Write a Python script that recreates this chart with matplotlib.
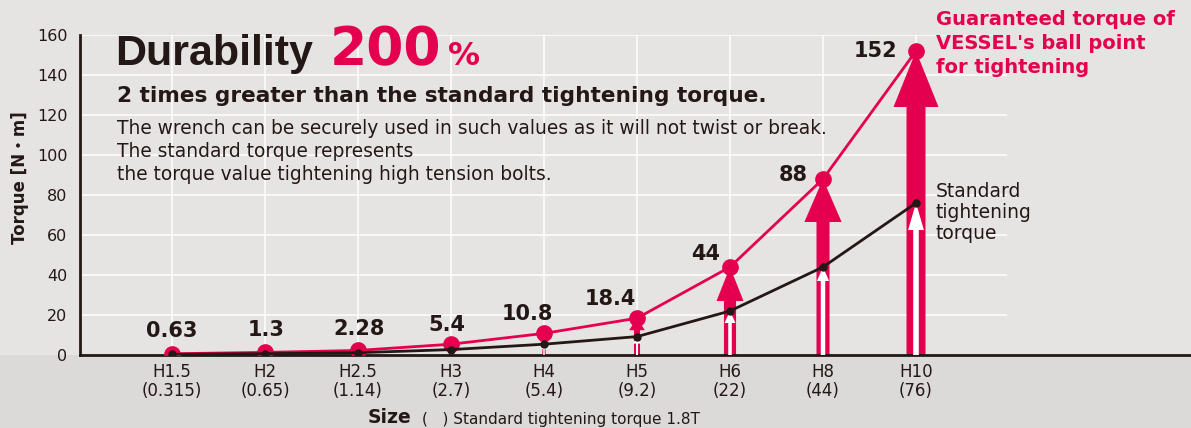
import matplotlib
matplotlib.use("Agg")
import matplotlib.pyplot as plt
from matplotlib.patches import FancyArrow, Rectangle

# chart data
sizes = ["H1.5", "H2", "H2.5", "H3", "H4", "H5", "H6", "H8", "H10"]
standard = [0.315, 0.65, 1.14, 2.7, 5.4, 9.2, 22, 44, 76]
guaranteed = [0.63, 1.3, 2.28, 5.4, 10.8, 18.4, 44, 88, 152]
guar_labels = ["0.63", "1.3", "2.28", "5.4", "10.8", "18.4", "44", "88", "152"]
yticks = [0, 20, 40, 60, 80, 100, 120, 140, 160]

RED = "#e4004f"
INK = "#231815"
W, H = 1191, 428

# label offsets (pixels) from each red point
lab_off = [(0, 23), (1, 22), (1, 21), (-4, 19), (-17, 19), (-27, 19), (-24, 13), (-30, 4), (-41, 0)]
# arrow styles for H4..H10: shaft width, head width (x units), head length (y units)
red_arrow = [(0.035, 0.10, 4), (0.065, 0.17, 6), (0.13, 0.29, 17), (0.14, 0.40, 21.5), (0.204, 0.484, 28)]
white_arrow = [(0.016, 0.055, 2.5), (0.022, 0.086, 3.5), (0.038, 0.118, 6), (0.048, 0.13, 7), (0.06, 0.17, 13.5)]

fig = plt.figure(figsize=(W / 100, H / 100), dpi=100)
fig.patch.set_facecolor("#dcd9d9")
fig.patches.append(Rectangle((0, 73 / H), 1, 1 - 73 / H, transform=fig.transFigure,
                             facecolor="#e6e3e3", edgecolor="none", zorder=-5))

ax = fig.add_axes([80 / W, 73 / H, (W - 80) / W, 320 / H])
ax.set_facecolor("none")
x = list(range(len(sizes)))
ax.set_xlim((80 - 172) / 93, (W - 172) / 93)
ax.set_ylim(0, 160)

# grid
ax.hlines(yticks[1:], ax.get_xlim()[0], 8.98, color="white", lw=1.3, alpha=0.85, zorder=0)
ax.vlines(x, 0, 160, color="white", lw=1.3, alpha=0.85, zorder=0)

# arrows
for k, i in enumerate(range(4, len(sizes))):
    sw, hw, hl = red_arrow[k]
    ax.add_patch(FancyArrow(i, 0, 0, guaranteed[i], width=sw, head_width=hw, head_length=hl,
                            length_includes_head=True, color=RED, lw=0, zorder=2))
    sw, hw, hl = white_arrow[k]
    ax.add_patch(FancyArrow(i, 0, 0, standard[i], width=sw, head_width=hw, head_length=hl,
                            length_includes_head=True, color="white", lw=0, zorder=3))

ax.plot(x, guaranteed, color=RED, lw=2, marker="o", ms=11, zorder=4)
ax.plot(x, standard, color=INK, lw=2, marker="o", ms=5, zorder=5)

for i, lab in enumerate(guar_labels):
    dx, dy = lab_off[i]
    ax.annotate(lab, (i, guaranteed[i]), xytext=(dx, dy), textcoords="offset pixels",
                ha="center", va="center", fontsize=15, fontweight="bold", color=INK, zorder=6)

for s in ["top", "right"]:
    ax.spines[s].set_visible(False)
for s in ["left", "bottom"]:
    ax.spines[s].set_color(INK)
    ax.spines[s].set_linewidth(2)
ax.set_yticks(yticks)
ax.set_yticklabels([str(v) for v in yticks], fontsize=11.5, color=INK)
ax.set_xticks(x)
ax.set_xticklabels([f"{s}\n({v})" for s, v in zip(sizes, standard)], fontsize=12,
                   color=INK, linespacing=1.05)
ax.tick_params(axis="y", length=0, pad=9)
ax.tick_params(axis="x", length=0, pad=6)


def ft(px, py, s, **kw):
    fig.text(px / W, 1 - py / H, s, **kw)


ft(20, 178, "Torque [N・m]", rotation=90, ha="center", va="center", fontsize=12,
   fontweight="bold", color=INK, family=["DejaVu Sans", "Noto Sans CJK JP"])
ft(368, 423, "Size", fontsize=13.5, fontweight="bold", color=INK, va="baseline")
ft(422, 424, "(   ) Standard tightening torque 1.8T", fontsize=11, color=INK, va="baseline")

ft(115, 65, "Durability", fontsize=31, fontweight="bold", color=INK, va="baseline",
   family="Liberation Sans")
ft(330, 65, "200", fontsize=38.5, fontweight="bold", color=RED, va="baseline")
ft(448, 65, "%", fontsize=23, fontweight="bold", color=RED, va="baseline")
ft(117, 102, "2 times greater than the standard tightening torque.", fontsize=15.6,
   fontweight="bold", color=INK, va="baseline")
for py, line in zip([134, 157, 180], ["The wrench can be securely used in such values as it will not twist or break.",
                                      "The standard torque represents",
                                      "the torque value tightening high tension bolts."]):
    ft(117, py, line, fontsize=13.4, color=INK, va="baseline")

for py, line in zip([25, 49, 73], ["Guaranteed torque of", "VESSEL's ball point", "for tightening"]):
    ft(936, py, line, fontsize=14, fontweight="bold", color=RED, va="baseline")
for py, line in zip([197, 218, 239], ["Standard", "tightening", "torque"]):
    ft(936, py, line, fontsize=13.5, color=INK, va="baseline")

fig.savefig("out.png", dpi=100, facecolor=fig.get_facecolor())
